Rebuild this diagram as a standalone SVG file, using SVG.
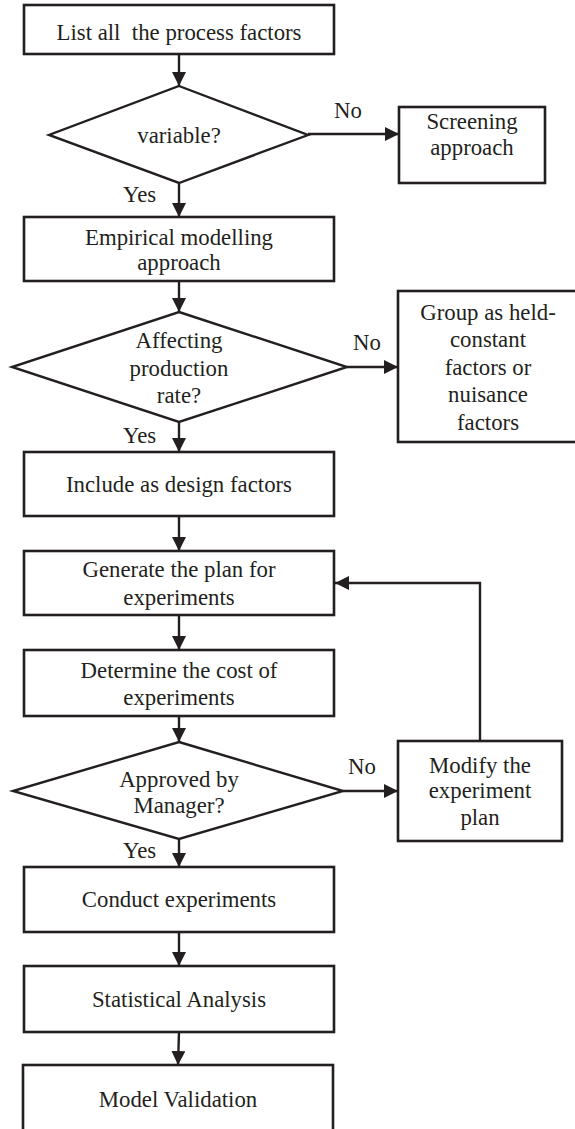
<svg xmlns="http://www.w3.org/2000/svg" width="575" height="1129" viewBox="0 0 575 1129">
  <style>
    .box { fill: #ffffff; stroke: #231f20; stroke-width: 2.6; }
    .dia { fill: #ffffff; stroke: #231f20; stroke-width: 2.4; stroke-linejoin: miter; }
    .lbl { font-family: "Liberation Serif", Tinos, "Times New Roman", Times, "Noto Serif", "DejaVu Serif", serif; font-size: 22.8px; fill: #231f20; text-anchor: middle; }
    .tag { font-family: "Liberation Serif", Tinos, "Times New Roman", Times, "Noto Serif", "DejaVu Serif", serif; font-size: 22.8px; fill: #231f20; text-anchor: start; }
    .edge { fill: none; stroke: #231f20; stroke-width: 2.4; marker-end: url(#head); }
  </style>
  <defs>
    <marker id="head" viewBox="0 0 14 14" refX="14" refY="7" markerWidth="14" markerHeight="14" markerUnits="userSpaceOnUse" orient="auto">
      <path d="M0,0 L14,7 L0,14 Z" fill="#231f20"/>
    </marker>
  </defs>
  <rect width="575" height="1129" fill="#ffffff"/>

  <g id="connectors">
    <path class="edge" d="M179,54 V86"/>
    <path class="edge" d="M308,134 H399"/>
    <path class="edge" d="M179,183 V217"/>
    <path class="edge" d="M179,281 V312"/>
    <path class="edge" d="M347,367 H398"/>
    <path class="edge" d="M179,422 V452"/>
    <path class="edge" d="M179,516 V551"/>
    <path class="edge" d="M179,615 V650"/>
    <path class="edge" d="M179,716 V742"/>
    <path class="edge" d="M343,791 H398"/>
    <path class="edge" d="M480,741 V583 H335"/>
    <path class="edge" d="M179,839 V867"/>
    <path class="edge" d="M179,932 V966"/>
    <path class="edge" d="M179,1032 L178,1065"/>
    <text class="tag" x="334" y="118">No</text>
    <text class="tag" x="123" y="202">Yes</text>
    <text class="tag" x="353" y="350">No</text>
    <text class="tag" x="123" y="443">Yes</text>
    <text class="tag" x="348" y="774">No</text>
    <text class="tag" x="123" y="858">Yes</text>
  </g>

  <g id="list-factors">
    <rect class="box" x="24" y="5" width="310" height="49"/>
    <text class="lbl" x="179" y="40" xml:space="preserve">List all  the process factors</text>
  </g>

  <g id="variable">
    <polygon class="dia" points="179,86 308,135 179,183 49,135"/>
    <text class="lbl" x="179" y="143">variable?</text>
  </g>

  <g id="screening">
    <rect class="box" x="399" y="107" width="146" height="76"/>
    <text class="lbl" x="472" y="129">Screening</text>
    <text class="lbl" x="472" y="155">approach</text>
  </g>

  <g id="empirical">
    <rect class="box" x="24" y="217" width="310" height="64"/>
    <text class="lbl" x="179" y="245">Empirical modelling</text>
    <text class="lbl" x="179" y="270">approach</text>
  </g>

  <g id="affecting">
    <polygon class="dia" points="179,312 347,367 179,422 12,367"/>
    <text class="lbl" x="179" y="348">Affecting</text>
    <text class="lbl" x="179" y="376">production</text>
    <text class="lbl" x="179" y="403">rate?</text>
  </g>

  <g id="held-constant">
    <rect class="box" x="398" y="291" width="180" height="151"/>
    <text class="lbl" x="488" y="320">Group as held-</text>
    <text class="lbl" x="488" y="347">constant</text>
    <text class="lbl" x="488" y="375">factors or</text>
    <text class="lbl" x="488" y="402">nuisance</text>
    <text class="lbl" x="488" y="430">factors</text>
  </g>

  <g id="design-factors">
    <rect class="box" x="24" y="452" width="310" height="64"/>
    <text class="lbl" x="179" y="492">Include as design factors</text>
  </g>

  <g id="generate-plan">
    <rect class="box" x="24" y="551" width="310" height="64"/>
    <text class="lbl" x="179" y="577">Generate the plan for</text>
    <text class="lbl" x="179" y="605">experiments</text>
  </g>

  <g id="determine-cost">
    <rect class="box" x="24" y="650" width="310" height="66"/>
    <text class="lbl" x="179" y="678">Determine the cost of</text>
    <text class="lbl" x="179" y="705">experiments</text>
  </g>

  <g id="approved">
    <polygon class="dia" points="179,742 343,791 179,839 13,791"/>
    <text class="lbl" x="179" y="787">Approved by</text>
    <text class="lbl" x="179" y="813">Manager?</text>
  </g>

  <g id="modify-plan">
    <rect class="box" x="398" y="741" width="164" height="100"/>
    <text class="lbl" x="480" y="773">Modify the</text>
    <text class="lbl" x="480" y="798">experiment</text>
    <text class="lbl" x="480" y="825">plan</text>
  </g>

  <g id="conduct">
    <rect class="box" x="24" y="867" width="310" height="65"/>
    <text class="lbl" x="179" y="907">Conduct experiments</text>
  </g>

  <g id="statistical">
    <rect class="box" x="24" y="966" width="310" height="66"/>
    <text class="lbl" x="179" y="1007">Statistical Analysis</text>
  </g>

  <g id="validation">
    <rect class="box" x="23" y="1065" width="310" height="80"/>
    <text class="lbl" x="178" y="1107">Model Validation</text>
  </g>
</svg>
